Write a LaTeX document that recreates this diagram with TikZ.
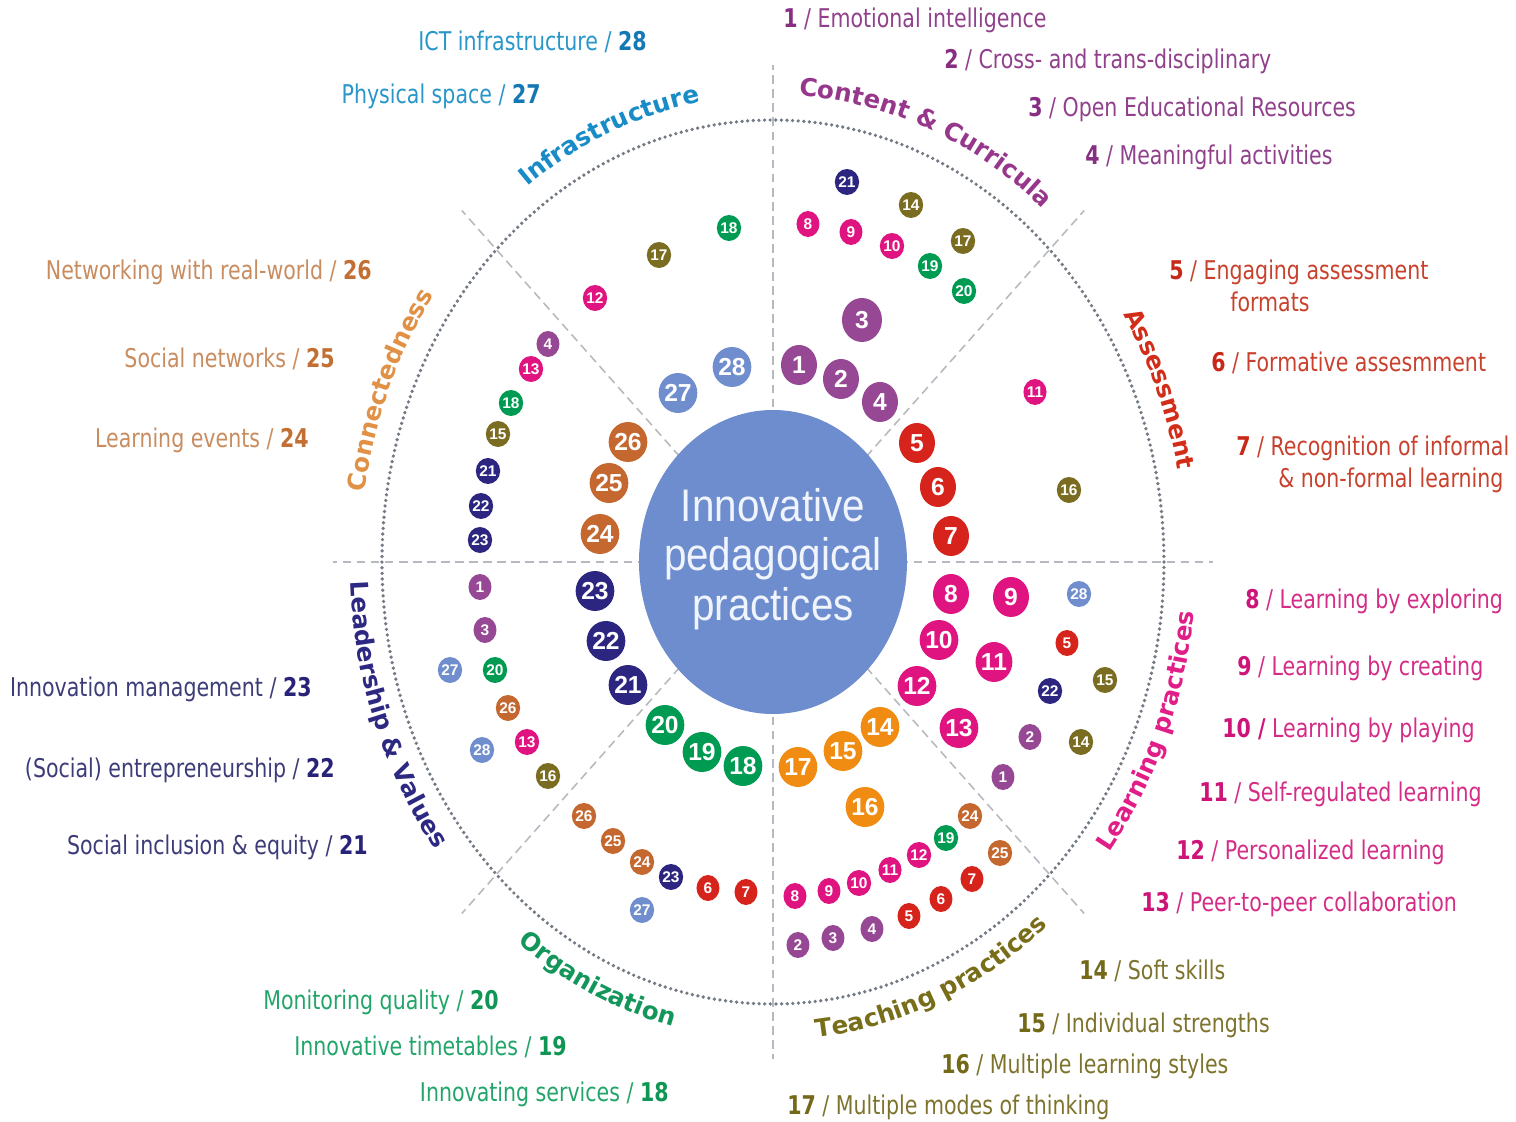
\documentclass[tikz,border=0pt]{standalone}
\usepackage{fontspec}
\setmainfont{DejaVu Sans Condensed}
\newfontfamily\catfont{DejaVu Sans}
\newfontfamily\numfont{Liberation Sans}
\usetikzlibrary{shapes.geometric,decorations.text}

% bubble colours (one per dimension)
\definecolor{kContent}{RGB}{150,72,148}
\definecolor{kAssess}{RGB}{214,36,28}
\definecolor{kLearn}{RGB}{224,20,128}
\definecolor{kTeach}{RGB}{122,108,32}
\definecolor{kTeachBig}{RGB}{240,140,18}
\definecolor{kOrg}{RGB}{0,155,82}
\definecolor{kLead}{RGB}{44,38,128}
\definecolor{kConn}{RGB}{196,104,48}
\definecolor{kInfra}{RGB}{112,142,206}
\definecolor{kCore}{RGB}{110,141,206}
% label text colours
\definecolor{tInfra}{RGB}{40,150,200}   \definecolor{nInfra}{RGB}{20,120,180}
\definecolor{tConn}{RGB}{200,140,95}    \definecolor{nConn}{RGB}{195,110,50}
\definecolor{tLead}{RGB}{60,60,120}     \definecolor{nLead}{RGB}{40,35,120}
\definecolor{tOrg}{RGB}{35,165,105}     \definecolor{nOrg}{RGB}{15,150,85}
\definecolor{tTeach}{RGB}{125,115,45}   \definecolor{nTeach}{RGB}{115,105,25}
\definecolor{tLearn}{RGB}{212,45,135}   \definecolor{nLearn}{RGB}{205,20,120}
\definecolor{tAssess}{RGB}{200,65,45}   \definecolor{nAssess}{RGB}{200,40,25}
\definecolor{tContent}{RGB}{145,65,140} \definecolor{nContent}{RGB}{135,45,130}
% dimension titles
\definecolor{hInfra}{RGB}{25,140,200}
\definecolor{hContent}{RGB}{150,55,140}
\definecolor{hAssess}{RGB}{210,45,25}
\definecolor{hLearn}{RGB}{225,30,135}
\definecolor{hTeach}{RGB}{120,110,25}
\definecolor{hOrg}{RGB}{20,150,90}
\definecolor{hLead}{RGB}{45,40,130}
\definecolor{hConn}{RGB}{225,145,70}
\definecolor{spokegray}{RGB}{182,186,192}
\definecolor{ringgray}{RGB}{115,122,132}
\definecolor{coretext}{RGB}{240,244,252}

\newcommand\vstr[1]{\scalebox{1}[1.13]{#1}}
\newcommand\titlefont{\catfont\bfseries\fontsize{14}{14}\selectfont}

\begin{document}
\begin{tikzpicture}[x=0.02cm, y=0.02cm,
  spoke/.style={draw=spokegray, line width=0.9pt, dash pattern=on 5pt off 3pt},
  ring/.style={draw=ringgray, line width=2.1pt, line cap=round, dash pattern=on 0pt off 3.2pt},
  core/.style={ellipse, fill=kCore, minimum width=268*0.02cm, minimum height=304*0.02cm, inner sep=0pt},
  big/.style={ellipse, fill=#1, minimum width=36*0.02cm, minimum height=40*0.02cm, inner sep=0pt,
    text=white, font=\numfont\bfseries\fontsize{14}{14}\selectfont},
  bigger/.style={big=#1, minimum width=40*0.02cm, minimum height=44*0.02cm},
  small/.style={ellipse, fill=#1, minimum width=23*0.02cm, minimum height=26*0.02cm, inner sep=0pt,
    text=white, font=\numfont\bfseries\fontsize{8.8}{8.8}\selectfont},
  lab/.style={inner sep=0pt, font=\fontsize{13}{15.6}\selectfont},
  labL/.style={lab, anchor=base east},
  labR/.style={lab, anchor=base west}]

\useasboundingbox (-773,-560) rectangle (743,562);

% spokes separating the eight dimensions
\coordinate (O) at (0,0);
\foreach \a in {0,45,...,315}
  \coordinate (sp\a) at (\a:440 and 497);
\foreach \a in {0,45,...,315}
  \draw[spoke] (O) -- (sp\a);

% dotted ring
\draw[ring] (O) ellipse [x radius=391, y radius=442];

% central ellipse
\node[core] (core) at (O) {};
\node[text=coretext, font=\numfont\fontsize{23}{28.3}\selectfont, align=center] (coretxt) at (0,3)
  {\vstr{Innovative}\\\vstr{pedagogical}\\\vstr{practices}};

% Content & Curricula
\foreach \x/\y/\n in {26/197/1, 68/183/2, 107/160/4}
  \node[big=kContent] (c\n) at (\x,\y) {\n};
\node[bigger=kContent] (c3) at (89,242) {3};
\foreach \x/\y/\n/\c in {74/380/21/kLead, 138/357/14/kTeach, 35/338/8/kLearn, 78/330/9/kLearn,
    119/316/10/kLearn, 190/321/17/kTeach, 157/296/19/kOrg, 191/271/20/kOrg}
  \node[small=\c] (cs\n) at (\x,\y) {\n};

% Assessment
\foreach \x/\y/\n in {144/119/5, 165/75/6, 178/26/7}
  \node[big=kAssess] (a\n) at (\x,\y) {\n};
\foreach \x/\y/\n/\c in {262/170/11/kLearn, 296/72/16/kTeach}
  \node[small=\c] (as\n) at (\x,\y) {\n};

% Learning practices
\foreach \x/\y/\n in {178/-32/8, 238/-35/9, 166/-78/10, 221/-100/11, 144/-124/12, 186/-166/13}
  \node[big=kLearn] (l\n) at (\x,\y) {\n};
\foreach \x/\y/\n/\c in {306/-32/28/kInfra, 294/-81/5/kAssess, 332/-118/15/kTeach, 277/-129/22/kLead,
    257/-175/2/kContent, 308/-180/14/kTeach, 230/-215/1/kContent}
  \node[small=\c] (ls\n) at (\x,\y) {\n};

% Teaching practices
\foreach \x/\y/\n in {107/-165/14, 70/-189/15, 25/-205/17, 92/-245/16}
  \node[big=kTeachBig] (t\n) at (\x,\y) {\n};
\foreach \x/\y/\n/\c in {197/-254/24/kConn, 173/-276/19/kOrg, 146/-293/12/kLearn, 227/-291/25/kConn,
    117/-308/11/kLearn, 86/-321/10/kLearn, 56/-329/9/kLearn, 22/-334/8/kLearn,
    199/-317/7/kAssess, 168/-337/6/kAssess, 136/-354/5/kAssess,
    99/-367/4/kContent, 60/-376/3/kContent, 25/-383/2/kContent}
  \node[small=\c] (ts\n) at (\x,\y) {\n};

% Organization
\foreach \x/\y/\n in {-108/-163/20, -71/-190/19, -30/-204/18}
  \node[big=kOrg] (o\n) at (\x,\y) {\n};
\foreach \x/\y/\n/\c in {-189/-254/26/kConn, -160/-279/25/kConn, -131/-300/24/kConn, -102/-315/23/kLead,
    -65/-326/6/kAssess, -27/-330/7/kAssess, -131/-348/27/kInfra}
  \node[small=\c] (os\n) at (\x,\y) {\n};

% Leadership & Values
\foreach \x/\y/\n in {-178/-29/23, -167/-79/22, -145/-123/21}
  \node[big=kLead] (v\n) at (\x,\y) {\n};
\foreach \x/\y/\n/\c in {-293/-25/1/kContent, -288/-68/3/kContent, -323/-108/27/kInfra, -278/-108/20/kOrg,
    -265/-146/26/kConn, -246/-180/13/kLearn, -291/-188/28/kInfra, -225/-214/16/kTeach}
  \node[small=\c] (vs\n) at (\x,\y) {\n};

% Connectedness
\foreach \x/\y/\n in {-145/120/26, -164/79/25, -173/28/24}
  \node[big=kConn] (n\n) at (\x,\y) {\n};
\foreach \x/\y/\n/\c in {-225/218/4/kContent, -242/193/13/kLearn, -262/159/18/kOrg, -275/128/15/kTeach,
    -285/91/21/kLead, -292/56/22/kLead, -293/22/23/kLead}
  \node[small=\c] (ns\n) at (\x,\y) {\n};

% Infrastructure
\foreach \x/\y/\n in {-95/169/27, -41/195/28}
  \node[big=kInfra] (i\n) at (\x,\y) {\n};
\foreach \x/\y/\n/\c in {-44/334/18/kOrg, -114/307/17/kTeach, -178/264/12/kLearn}
  \node[small=\c] (is\n) at (\x,\y) {\n};

% dimension titles along the ring
\path[decorate, decoration={text along path, text align=center,
  text={|\titlefont\color{hInfra}|Infrastructure}}]
  (150:413 and 467) arc[start angle=150, end angle=75, x radius=413, y radius=467];
\path[decorate, decoration={text along path, text align=center,
  text={|\titlefont\color{hContent}|Content {\&} Curricula}}]
  (106:413 and 467) arc[start angle=106, end angle=31, x radius=413, y radius=467];
\path[decorate, decoration={text along path, text align=center,
  text={|\titlefont\color{hAssess}|Assessment}}]
  (60:413 and 467) arc[start angle=60, end angle=-15, x radius=413, y radius=467];
\path[decorate, decoration={text along path, text align=center,
  text={|\titlefont\color{hConn}|Connectedness}}]
  (195:413 and 467) arc[start angle=195, end angle=120, x radius=413, y radius=467];
\path[decorate, decoration={text along path, text align=center,
  text={|\titlefont\color{hLead}|Leadership {\&} Values}}]
  (158:423 and 478) arc[start angle=158, end angle=243, x radius=423, y radius=478];
\path[decorate, decoration={text along path, text align=center,
  text={|\titlefont\color{hOrg}|Organization}}]
  (208:423 and 478) arc[start angle=208, end angle=283, x radius=423, y radius=478];
\path[decorate, decoration={text along path, text align=center,
  text={|\titlefont\color{hTeach}|Teaching practices}}]
  (255:423 and 478) arc[start angle=255, end angle=330, x radius=423, y radius=478];
\path[decorate, decoration={text along path, text align=center,
  text={|\titlefont\color{hLearn}|Learning practices}}]
  (297:423 and 478) arc[start angle=297, end angle=378, x radius=423, y radius=478];

% legend labels, left side
\node[labL, text=tInfra] (lab28) at (-126,511) {\vstr{ICT infrastructure / \textbf{\color{nInfra}28}}};
\node[labL, text=tInfra] (lab27) at (-232,458) {\vstr{Physical space / \textbf{\color{nInfra}27}}};
\node[labL, text=tConn] (lab26) at (-401,282) {\vstr{Networking with real-world / \textbf{\color{nConn}26}}};
\node[labL, text=tConn] (lab25) at (-438,194) {\vstr{Social networks / \textbf{\color{nConn}25}}};
\node[labL, text=tConn] (lab24) at (-464,114) {\vstr{Learning events / \textbf{\color{nConn}24}}};
\node[labL, text=tLead] (lab23) at (-461,-135) {\vstr{Innovation management / \textbf{\color{nLead}23}}};
\node[labL, text=tLead] (lab22) at (-438,-216) {\vstr{(Social) entrepreneurship / \textbf{\color{nLead}22}}};
\node[labL, text=tLead] (lab21) at (-405,-293) {\vstr{Social inclusion \& equity / \textbf{\color{nLead}21}}};
\node[labL, text=tOrg] (lab20) at (-274,-448) {\vstr{Monitoring quality / \textbf{\color{nOrg}20}}};
\node[labL, text=tOrg] (lab19) at (-206,-494) {\vstr{Innovative timetables / \textbf{\color{nOrg}19}}};
\node[labL, text=tOrg] (lab18) at (-104,-540) {\vstr{Innovating services / \textbf{\color{nOrg}18}}};

% legend labels, right side
\node[labR, text=tContent] (lab1) at (10,534) {\vstr{\textbf{\color{nContent}1} / Emotional intelligence}};
\node[labR, text=tContent] (lab2) at (171,493) {\vstr{\textbf{\color{nContent}2} / Cross- and trans-disciplinary}};
\node[labR, text=tContent] (lab3) at (255,445) {\vstr{\textbf{\color{nContent}3} / Open Educational Resources}};
\node[labR, text=tContent] (lab4) at (312,397) {\vstr{\textbf{\color{nContent}4} / Meaningful activities}};
\node[labR, text=tAssess] (lab5) at (396,282) {\vstr{\textbf{\color{nAssess}5} / Engaging assessment}};
\node[labR, text=tAssess] (lab5b) at (457,250) {\vstr{formats}};
\node[labR, text=tAssess] (lab6) at (438,190) {\vstr{\textbf{\color{nAssess}6} / Formative assesmment}};
\node[labR, text=tAssess] (lab7) at (463,106) {\vstr{\textbf{\color{nAssess}7} / Recognition of informal}};
\node[labR, text=tAssess] (lab7b) at (505,74) {\vstr{\& non-formal learning}};
\node[labR, text=tLearn] (lab8) at (472,-47) {\vstr{\textbf{\color{nLearn}8} / Learning by exploring}};
\node[labR, text=tLearn] (lab9) at (464,-114) {\vstr{\textbf{\color{nLearn}9} / Learning by creating}};
\node[labR, text=tLearn] (lab10) at (449,-176) {\vstr{\textbf{\color{nLearn}10 /} Learning by playing}};
\node[labR, text=tLearn] (lab11) at (426,-240) {\vstr{\textbf{\color{nLearn}11} / Self-regulated learning}};
\node[labR, text=tLearn] (lab12) at (403,-298) {\vstr{\textbf{\color{nLearn}12} / Personalized learning}};
\node[labR, text=tLearn] (lab13) at (368,-350) {\vstr{\textbf{\color{nLearn}13} / Peer-to-peer collaboration}};
\node[labR, text=tTeach] (lab14) at (306,-418) {\vstr{\textbf{\color{nTeach}14} / Soft skills}};
\node[labR, text=tTeach] (lab15) at (244,-471) {\vstr{\textbf{\color{nTeach}15} / Individual strengths}};
\node[labR, text=tTeach] (lab16) at (168,-512) {\vstr{\textbf{\color{nTeach}16} / Multiple learning styles}};
\node[labR, text=tTeach] (lab17) at (14,-553) {\vstr{\textbf{\color{nTeach}17} / Multiple modes of thinking}};

\end{tikzpicture}
\end{document}
